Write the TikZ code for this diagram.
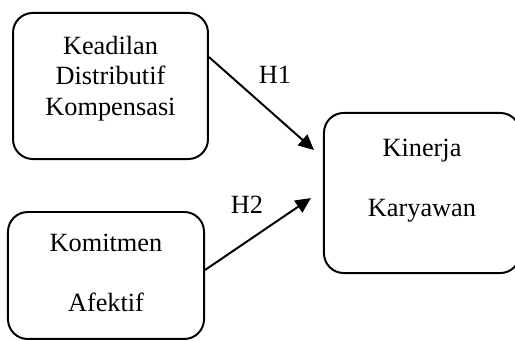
\documentclass[tikz,border=0pt]{standalone}
\usepackage{fontspec}
\setmainfont{Liberation Serif}
\usetikzlibrary{arrows.meta, positioning}
\tikzset{var/.style={draw, rounded corners=9pt, line width=0.9pt, inner sep=0pt, font=\fontsize{12}{13.7}\selectfont},
         hyp/.style={font=\fontsize{12}{13.7}\selectfont}}
\newcommand{\vartext}[2]{\raisebox{#1}[\height][\depth]{\begin{tabular}{@{}c@{}}#2\end{tabular}}}

\begin{document}
\begin{tikzpicture}[>={Triangle[length=7pt,width=6.5pt]}, line width=0.9pt, x=0.456pt, y=-0.456pt]
\useasboundingbox (0,0) rectangle (515,341);
\node[var, minimum width=88.9pt, minimum height=66.6pt] (kd) at (110.5,86) {\vartext{3.2pt}{Keadilan\\Distributif\\Kompensasi}};
\node[var, minimum width=89.4pt, minimum height=57.9pt] (km) at (106,275.5) {\vartext{0pt}{Komitmen\\[13.7pt]Afektif}};
\node[var, minimum width=89.4pt, minimum height=73pt] (kr) at (422,193) {\vartext{5.7pt}{Kinerja\\[14pt]Karyawan}};
\node[hyp] (h1) at (275,75) {H1};
\node[hyp] (h2) at (247,205) {H2};
\draw[->] ([yshift=13.2pt]kd.east) -- ([xshift=-4.1pt,yshift=19.6pt]kr.west);
\draw[->] ([yshift=2.5pt]km.east) -- ([xshift=-5.5pt,yshift=-2.3pt]kr.west);
\end{tikzpicture}
\end{document}
